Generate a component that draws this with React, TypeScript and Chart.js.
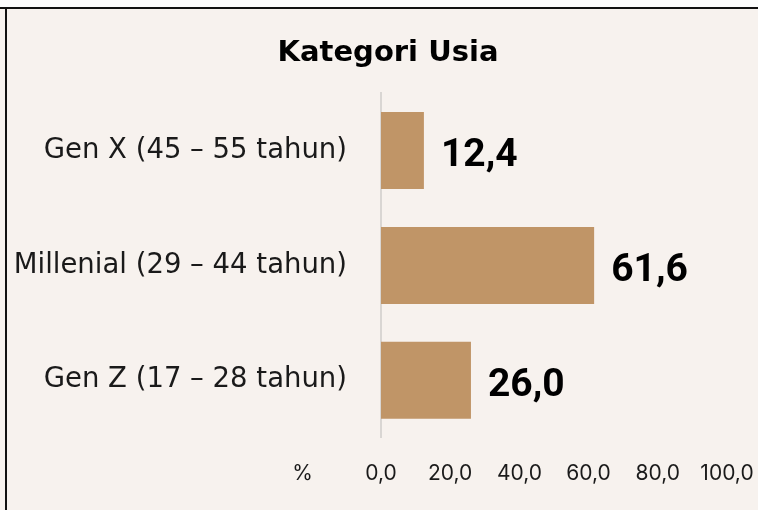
import React, { useEffect, useRef } from "react";
import { Chart, registerables } from "chart.js";

Chart.register(...registerables);

const categories = ["Gen X (45 – 55 tahun)", "Millenial (29 – 44 tahun)", "Gen Z (17 – 28 tahun)"];
const values = [12.4, 61.6, 26.0];
const xMin = 0;
const xMax = 100;
const xStep = 20;
const unitLabel = "%";
const titleText = "Kategori Usia";

const LABEL_FONT = "'DejaVu Sans', sans-serif";
const TICK_FONT = "Inter, 'Noto Sans', sans-serif";
const VALUE_FONT = "Roboto, 'Liberation Sans', sans-serif";
const BG = "#f7f2ee";
const BAR = "#c09567";
const TEXT = "#1a1a1a";

const fmt = (v: number) => v.toFixed(1).replace(".", ",");

export default function App() {
  const ref = useRef<HTMLCanvasElement | null>(null);

  useEffect(() => {
    if (!ref.current) return;

    const valueLabelPlugin = {
      id: "valueLabels",
      afterDatasetsDraw(chart: any) {
        const ctx = chart.ctx;
        const meta = chart.getDatasetMeta(0);
        ctx.save();
        ctx.fillStyle = "#000";
        ctx.font = `700 39px ${VALUE_FONT}`;
        ctx.textAlign = "left";
        ctx.textBaseline = "alphabetic";
        meta.data.forEach((bar: any, i: number) => {
          ctx.fillText(fmt(values[i]), bar.x + 17, bar.y + 16);
        });
        ctx.restore();
      },
    };

    const unitPlugin = {
      id: "unitLabel",
      afterDraw(chart: any) {
        const ctx = chart.ctx;
        const area = chart.chartArea;
        ctx.save();
        ctx.fillStyle = TEXT;
        ctx.font = `400 21px ${TICK_FONT}`;
        ctx.textAlign = "center";
        ctx.textBaseline = "middle";
        ctx.fillText(unitLabel, area.left - 78.5, area.bottom + 36);
        ctx.restore();
      },
    };

    const chart = new Chart(ref.current, {
      type: "bar",
      data: {
        labels: categories,
        datasets: [
          {
            data: values,
            backgroundColor: BAR,
            borderWidth: 0,
            categoryPercentage: 1,
            barPercentage: 0.67,
          },
        ],
      },
      options: {
        indexAxis: "y",
        animation: false,
        responsive: false,
        layout: { padding: { left: 49, right: 31, top: 0, bottom: 21 } },
        plugins: {
          legend: { display: false },
          tooltip: { enabled: false },
          title: {
            display: true,
            text: titleText,
            color: "#000",
            font: { family: LABEL_FONT, size: 29, weight: "bold", lineHeight: 1.2 },
            padding: { top: 27.5, bottom: 21.7 },
          },
        },
        scales: {
          x: {
            min: xMin,
            max: xMax,
            grid: { display: false, drawTicks: true, tickLength: 20 },
            border: { display: false },
            ticks: {
              stepSize: xStep,
              padding: 3,
              color: TEXT,
              font: { family: TICK_FONT, size: 21, lineHeight: 1.2 },
              callback: (v: any) => fmt(Number(v)),
            },
          },
          y: {
            grid: { display: false, drawTicks: true, tickLength: 30 },
            border: { display: true, color: "#d9d6d3", width: 2 },
            afterFit(scale: any) {
              scale.width = 381 - 49;
              // let the long category labels extend left of the scale box
              scale._computeLabelArea = () => undefined;
            },
            ticks: {
              padding: 4,
              color: TEXT,
              font: { family: LABEL_FONT, size: 27.5, lineHeight: 1.2 },
            },
          },
        },
      },
      plugins: [valueLabelPlugin, unitPlugin],
    });

    return () => chart.destroy();
  }, []);

  return (
    <div style={{ position: "absolute", left: 0, top: 0, width: 758, height: 510, background: "#fcfcfc", overflow: "hidden" }}>
      <div
        style={{
          position: "absolute",
          left: 0,
          top: 7,
          width: 758,
          height: 503,
          background: BG,
          borderTop: "2px solid #111",
          boxSizing: "border-box",
        }}
      />
      <div style={{ position: "absolute", left: 5, top: 7, width: 2, height: 503, background: "#111" }} />
      <canvas
        ref={ref}
        width={758}
        height={501}
        style={{ position: "absolute", left: 0, top: 9, width: 758, height: 501, display: "block" }}
      />
    </div>
  );
}
